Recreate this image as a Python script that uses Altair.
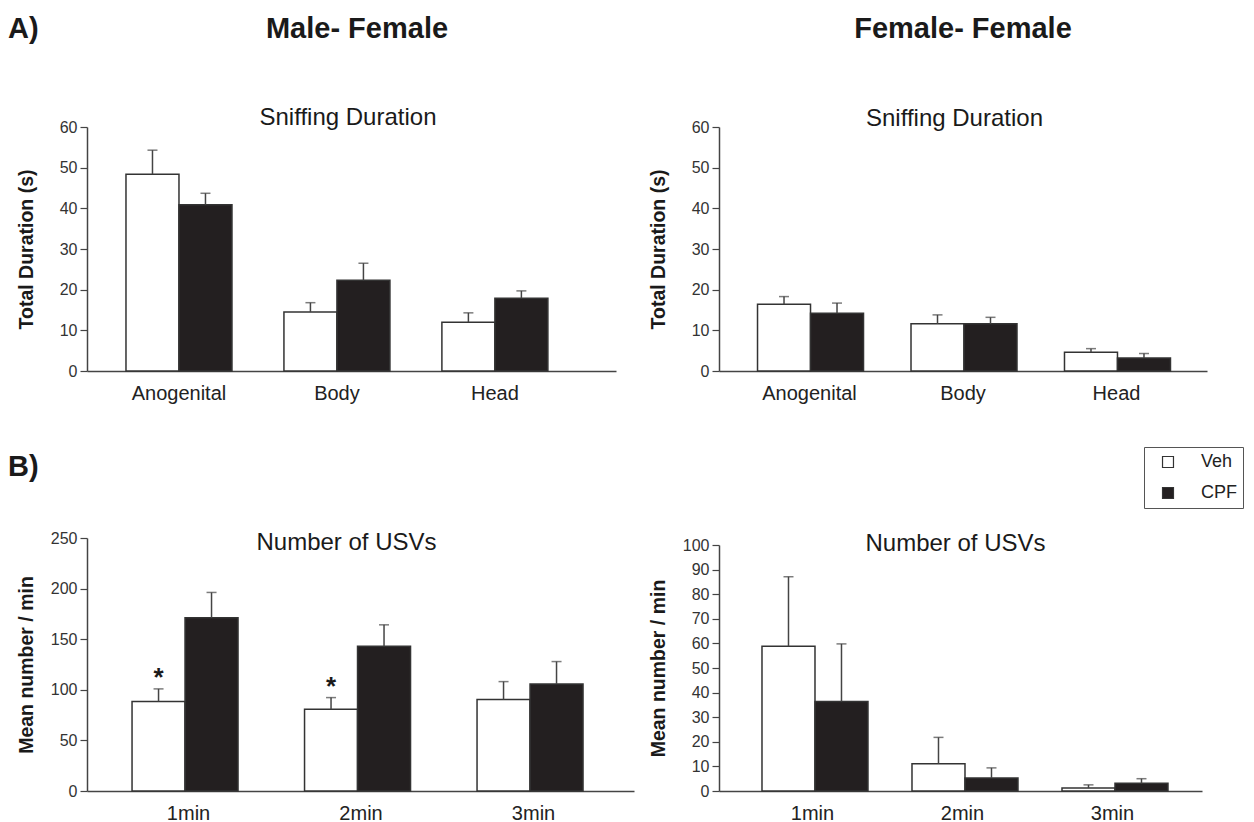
import altair as alt
import pandas as pd

F = "Liberation Sans"

groups = ["Veh", "CPF"]
sniff_categories = ["Anogenital", "Body", "Head"]
usv_categories = ["1min", "2min", "3min"]

# Male-Female sniffing duration (s)
mf_sniff_veh = [48.4, 14.5, 12.0]
mf_sniff_veh_err = [5.9, 2.3, 2.3]
mf_sniff_cpf = [40.9, 22.3, 17.9]
mf_sniff_cpf_err = [2.8, 4.2, 1.8]

# Female-Female sniffing duration (s)
ff_sniff_veh = [16.4, 11.6, 4.6]
ff_sniff_veh_err = [1.9, 2.2, 0.9]
ff_sniff_cpf = [14.2, 11.6, 3.2]
ff_sniff_cpf_err = [2.5, 1.6, 1.1]

# Male-Female USVs (mean number / min)
mf_usv_veh = [88.4, 80.8, 90.3]
mf_usv_veh_err = [12.5, 11.5, 17.8]
mf_usv_cpf = [171.2, 143.1, 105.8]
mf_usv_cpf_err = [25.0, 21.1, 22.1]
mf_usv_veh_sig = ["*", "*", ""]

# Female-Female USVs (mean number / min)
ff_usv_veh = [58.8, 11.1, 1.2]
ff_usv_veh_err = [28.3, 10.7, 1.3]
ff_usv_cpf = [36.4, 5.3, 3.1]
ff_usv_cpf_err = [23.4, 4.1, 1.9]


def make_df(cats, veh, veh_err, cpf, cpf_err, veh_sig=None):
    rows = []
    for i, c in enumerate(cats):
        rows.append({"category": c, "group": "Veh", "value": veh[i],
                     "upper": veh[i] + veh_err[i],
                     "sig": (veh_sig[i] if veh_sig else "")})
        rows.append({"category": c, "group": "CPF", "value": cpf[i],
                     "upper": cpf[i] + cpf_err[i], "sig": ""})
    return pd.DataFrame(rows)


fill_enc = alt.Fill(
    "group:N",
    sort=groups,
    scale=alt.Scale(domain=groups, range=["white", "#231f20"]),
    legend=alt.Legend(
        orient="none", legendX=1057, legendY=320, title=None,
        symbolType="square", symbolSize=120, symbolStrokeColor="#333",
        symbolStrokeWidth=1.2, labelFontSize=18, labelFont=F, labelColor="#222",
        strokeColor="#555", padding=6, rowPadding=13, labelOffset=24,
        symbolOffset=9, fillColor="white", direction="vertical",
    ),
)


def text_layer(txt, x, y, size, weight="normal", align="center"):
    return alt.Chart(pd.DataFrame({"t": [txt]})).mark_text(
        font=F, fontSize=size, fontWeight=weight, color="#1a1a1a",
        align=align, baseline="alphabetic",
    ).encode(text="t:N", x=alt.value(x), y=alt.value(y))


def panel(df, cats, ymax, ystep, width, height, pin, pout, align,
          ytitle, title, tx, ty, extra=None, stars=False, yrange=None):
    base = alt.Chart(df)
    x = alt.X(
        "category:N", sort=cats,
        scale=alt.Scale(paddingInner=pin, paddingOuter=pout, align=align),
        axis=alt.Axis(title=None, labelAngle=0, ticks=False, labelPadding=12,
                      labelFontSize=20, labelFont=F, labelColor="#222",
                      domainColor="#444", domainWidth=1.5),
    )
    xo = alt.XOffset("group:N", sort=groups,
                     scale=alt.Scale(paddingInner=0, paddingOuter=0))
    if yrange:
        yscale = alt.Scale(domain=[0, ymax], nice=False, range=yrange)
        ymid = (yrange[0] + yrange[1]) / 2
    else:
        yscale = alt.Scale(domain=[0, ymax], nice=False)
        ymid = height / 2
    yaxis = alt.Axis(
        values=list(range(0, ymax + 1, ystep)), title=ytitle,
        titleX=-51, titleY=ymid, titleFontSize=19.5,
        titleFontWeight="bold", titleFont=F, titleColor="#1a1a1a",
        labelFontSize=16, labelFont=F, labelColor="#333", labelPadding=3,
        labelOverlap=False, tickCount=len(range(0, ymax + 1, ystep)),
        tickSize=7, tickColor="#444", tickWidth=1.2,
        domainColor="#444", domainWidth=1.5, grid=False,
    )
    y = alt.Y("value:Q", scale=yscale, axis=yaxis, title=ytitle)
    y_up = alt.Y("upper:Q", scale=yscale, axis=yaxis, title=ytitle)
    bars = base.mark_bar(stroke="#333", strokeWidth=1.5).encode(
        x=x, xOffset=xo, y=y, fill=fill_enc)
    err = base.mark_rule(color="#444", strokeWidth=1.5).encode(
        x=x, xOffset=xo, y=y, y2="upper:Q")
    caps = base.mark_tick(color="#444", thickness=1.5, size=10).encode(
        x=x, xOffset=xo, y=y_up)
    layers = [bars, err, caps, text_layer(title, tx, ty, 24)]
    if stars:
        layers.append(base.mark_text(
            font=F, fontSize=26, fontWeight="bold", color="#1a1a1a",
            baseline="alphabetic", dy=-3,
        ).encode(x=x, xOffset=xo, y=y_up, text="sig:N"))
    if extra:
        layers.extend(extra)
    return alt.layer(*layers).properties(width=width, height=height)


headers = [
    text_layer("A)", -79, -89, 29, "bold", "left"),
    text_layer("Male- Female", 270, -89, 29, "bold"),
    text_layer("Female- Female", 876, -89, 29, "bold"),
    text_layer("B)", -79, 349, 29, "bold", "left"),
]

tl = panel(make_df(sniff_categories, mf_sniff_veh, mf_sniff_veh_err,
                   mf_sniff_cpf, mf_sniff_cpf_err),
           sniff_categories, 60, 10, 529, 244, 0.329, 0.339, 0.364,
           "Total Duration (s)", "Sniffing Duration", 261, -2, extra=headers)
tr = panel(make_df(sniff_categories, ff_sniff_veh, ff_sniff_veh_err,
                   ff_sniff_cpf, ff_sniff_cpf_err),
           sniff_categories, 60, 10, 488, 244, 0.3225, 0.251, 0.5,
           "Total Duration (s)", "Sniffing Duration", 235.5, -1.5)
bl = panel(make_df(usv_categories, mf_usv_veh, mf_usv_veh_err,
                   mf_usv_cpf, mf_usv_cpf_err, mf_usv_veh_sig),
           usv_categories, 250, 50, 547, 253, 0.345, 0.258, 0.506,
           "Mean number / min", "Number of USVs", 259.5, 11.7, stars=True)
br = panel(make_df(usv_categories, ff_usv_veh, ff_usv_veh_err,
                   ff_usv_cpf, ff_usv_cpf_err),
           usv_categories, 100, 10, 483, 253, 0.327, 0.2735, 0.524,
           "Mean number / min", "Number of USVs", 236.5, 12.5,
           yrange=[253, 7])

chart = alt.concat(
    tl, tr, bl, br, columns=2,
    spacing={"row": 167, "column": 85},
    bounds="flush",
).properties(
    padding={"left": 0, "top": 7, "right": 0, "bottom": 0},
).configure(font=F).configure_view(strokeWidth=0, stroke="transparent")

chart.save("out.html", embed_options={"renderer": "svg", "actions": False})
